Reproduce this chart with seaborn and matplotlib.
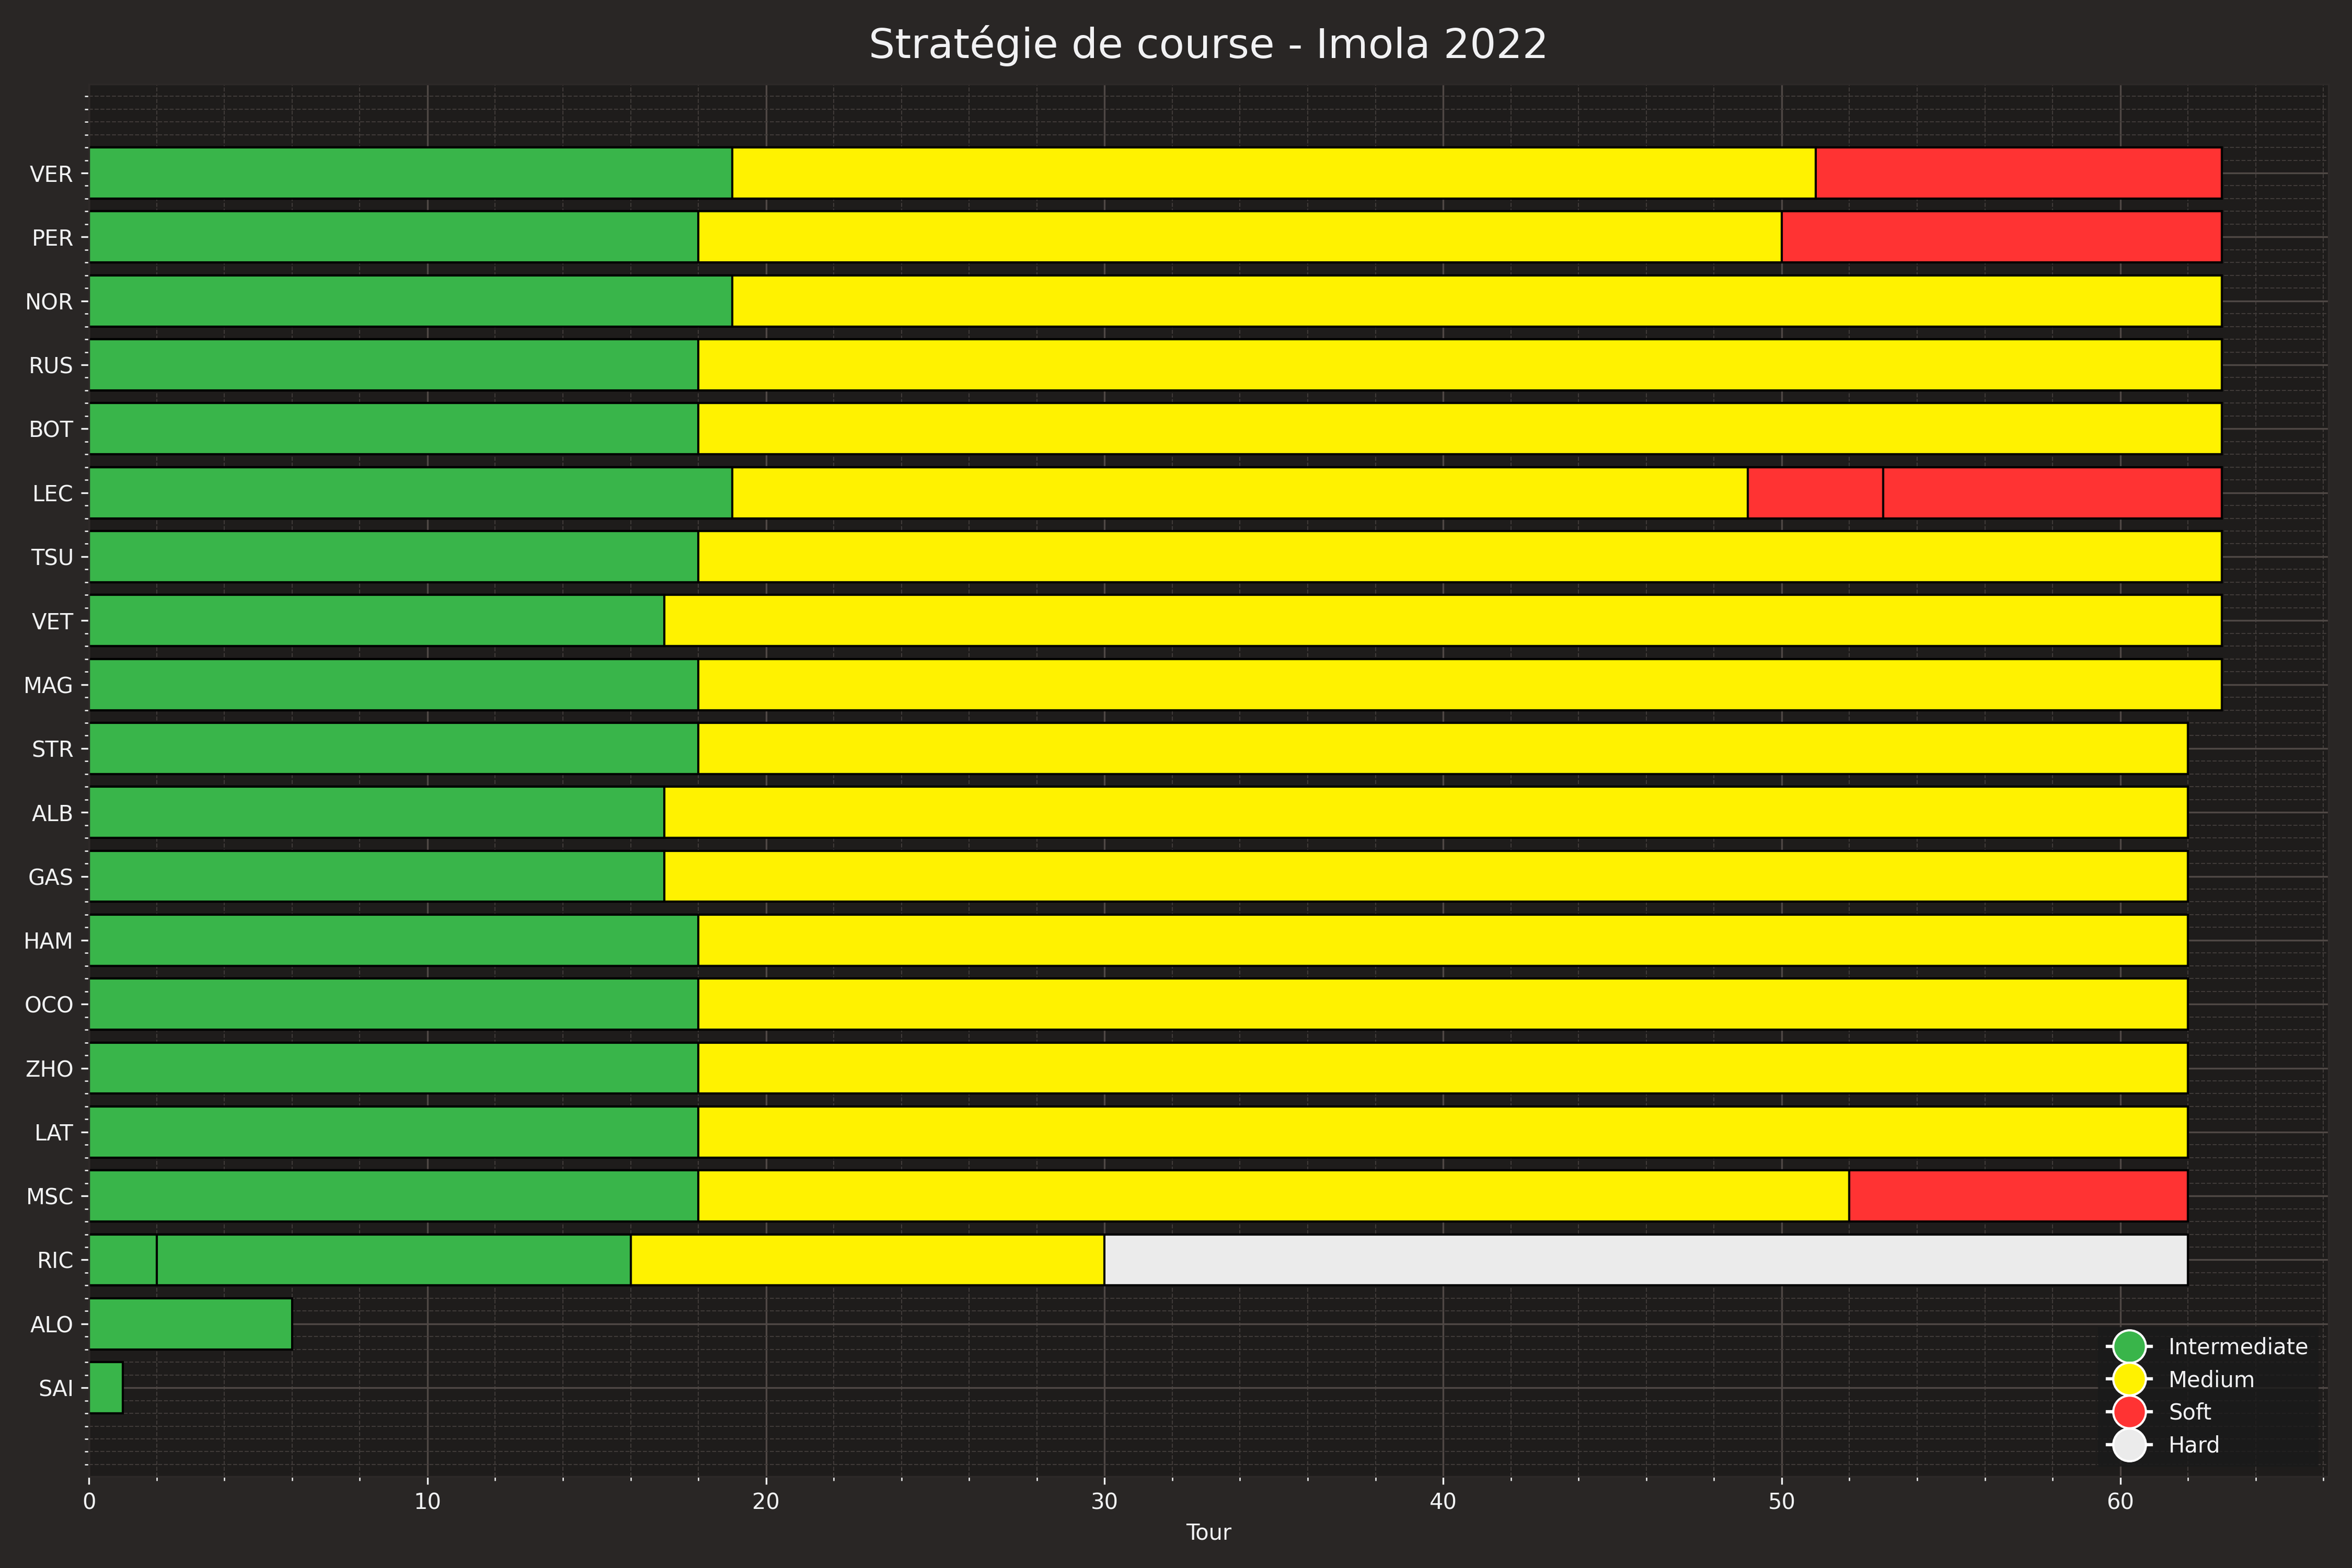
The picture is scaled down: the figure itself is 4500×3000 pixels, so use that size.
import pandas as pd
import seaborn as sns
import matplotlib.pyplot as plt
from matplotlib.lines import Line2D

# drivers in finishing order (top to bottom)
drivers = ['VER', 'PER', 'NOR', 'RUS', 'BOT', 'LEC', 'TSU', 'VET', 'MAG', 'STR',
           'ALB', 'GAS', 'HAM', 'OCO', 'ZHO', 'LAT', 'MSC', 'RIC', 'ALO', 'SAI']

# compound of each stint, per driver
stint_compounds = [
    ['INTERMEDIATE', 'MEDIUM', 'SOFT'],
    ['INTERMEDIATE', 'MEDIUM', 'SOFT'],
    ['INTERMEDIATE', 'MEDIUM'],
    ['INTERMEDIATE', 'MEDIUM'],
    ['INTERMEDIATE', 'MEDIUM'],
    ['INTERMEDIATE', 'MEDIUM', 'SOFT', 'SOFT'],
    ['INTERMEDIATE', 'MEDIUM'],
    ['INTERMEDIATE', 'MEDIUM'],
    ['INTERMEDIATE', 'MEDIUM'],
    ['INTERMEDIATE', 'MEDIUM'],
    ['INTERMEDIATE', 'MEDIUM'],
    ['INTERMEDIATE', 'MEDIUM'],
    ['INTERMEDIATE', 'MEDIUM'],
    ['INTERMEDIATE', 'MEDIUM'],
    ['INTERMEDIATE', 'MEDIUM'],
    ['INTERMEDIATE', 'MEDIUM'],
    ['INTERMEDIATE', 'MEDIUM', 'SOFT'],
    ['INTERMEDIATE', 'INTERMEDIATE', 'MEDIUM', 'HARD'],
    ['INTERMEDIATE'],
    ['INTERMEDIATE'],
]

# length (laps) of each stint, per driver
stint_laps = [
    [19, 32, 12],
    [18, 32, 13],
    [19, 44],
    [18, 45],
    [18, 45],
    [19, 30, 4, 10],
    [18, 45],
    [17, 46],
    [18, 45],
    [18, 44],
    [17, 45],
    [17, 45],
    [18, 44],
    [18, 44],
    [18, 44],
    [18, 44],
    [18, 34, 10],
    [2, 14, 14, 32],
    [6],
    [1],
]

compound_colors = {'INTERMEDIATE': '#39B54A',
                   'MEDIUM': '#FFF200',
                   'SOFT': '#FF3333',
                   'HARD': '#EBEBEB'}
legend_labels = {'INTERMEDIATE': 'Intermediate', 'MEDIUM': 'Medium',
                 'SOFT': 'Soft', 'HARD': 'Hard'}

# fastf1-like dark style
plt.rcParams['figure.facecolor'] = '#292625'
plt.rcParams['axes.facecolor'] = '#1e1c1b'
plt.rcParams['axes.edgecolor'] = '#2d2928'
plt.rcParams['xtick.color'] = '#f1f2f3'
plt.rcParams['ytick.color'] = '#f1f2f3'
plt.rcParams['axes.labelcolor'] = '#F1F1F3'
plt.rcParams['text.color'] = '#F1F1F3'
plt.rcParams['axes.titlesize'] = 19
plt.rcParams['axes.titlepad'] = 12
plt.rcParams['axes.titleweight'] = 'normal'
plt.rcParams['legend.fancybox'] = False
plt.rcParams['legend.facecolor'] = (0.1, 0.1, 0.1, 0.7)
plt.rcParams['legend.edgecolor'] = (0.1, 0.1, 0.1, 0.9)
plt.rcParams['axes.axisbelow'] = True

# long table: one row per stint with the lap where it ends
rows = []
for drv, comps, laps in zip(drivers, stint_compounds, stint_laps):
    end = 0
    for i, (c, n) in enumerate(zip(comps, laps)):
        end += n
        rows.append({'driver': drv, 'stint': i + 1, 'compound': c, 'lap_end': end})
stints = pd.DataFrame(rows)

fig, ax = plt.subplots(figsize=(15, 10))

# draw last stints first, earlier stints on top -> stacked look
for s in sorted(stints['stint'].unique(), reverse=True):
    sub = stints[stints['stint'] == s]
    sns.barplot(data=sub, x='lap_end', y='driver', hue='compound',
                order=drivers, palette=compound_colors, dodge=False,
                orient='h', errorbar=None, width=0.8, saturation=1,
                legend=False, edgecolor='black', linewidth=1, ax=ax)

# matplotlib-like margins on the category axis
n = len(drivers)
pad = 0.05 * (n - 1 + 0.8)
ax.set_ylim(n - 1 + 0.4 + pad, -0.4 - pad)

ax.minorticks_on()
ax.grid(which='major', color='#4f4845', linestyle='-', linewidth=0.8)
ax.grid(which='minor', color='#3f3a38', linestyle='--', linewidth=0.5)

handles = [Line2D([0], [0], marker='o', color='w', markerfacecolor=compound_colors[c],
                  markersize=15, label=legend_labels[c]) for c in compound_colors]
ax.legend(handles=handles, loc='lower right')

ax.set_title('Stratégie de course - Imola 2022')
ax.set_xlabel('Tour')
ax.set_ylabel('')

plt.tight_layout()
plt.savefig('out.png', dpi=300)
